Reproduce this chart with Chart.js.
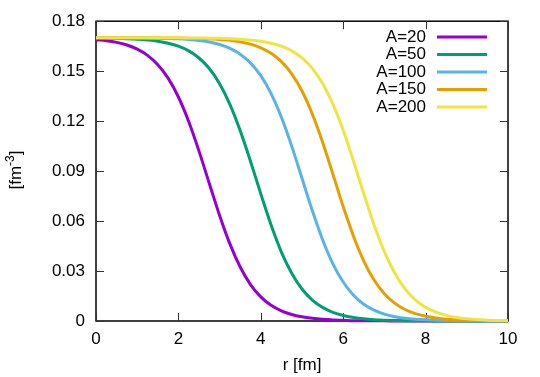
<!DOCTYPE html>
<html>
<head>
<meta charset="utf-8">
<script src="https://cdn.jsdelivr.net/npm/chart.js@4.4.1/dist/chart.umd.min.js"></script>
<style>
  html, body { margin: 0; padding: 0; background: #ffffff; }
</style>
</head>
<body>
<canvas id="densityChart" width="540" height="377"></canvas>
<script>
// r [fm]
const radius = [0, 0.25, 0.5, 0.75, 1, 1.25, 1.5, 1.75, 2, 2.25, 2.5, 2.75, 3, 3.25, 3.5, 3.75,
  4, 4.25, 4.5, 4.75, 5, 5.25, 5.5, 5.75, 6, 6.25, 6.5, 6.75, 7, 7.25, 7.5, 7.75,
  8, 8.25, 8.5, 8.75, 9, 9.25, 9.5, 9.75, 10];

// density [fm^-3]
const densA20 = [0.1689, 0.1683, 0.1673, 0.1657, 0.1632, 0.1595, 0.1539, 0.1458, 0.1345, 0.1198,
  0.1020, 0.0826, 0.0634, 0.0463, 0.0324, 0.0219, 0.0145, 0.0094, 0.0061, 0.0039,
  0.0025, 0.0016, 0.0010, 0.0006, 0.0004, 0.0002, 0.0002, 0.0001, 0.0001, 0, 0,
  0, 0, 0, 0, 0, 0, 0, 0, 0, 0];
const densA50 = [0.1699, 0.1698, 0.1697, 0.1695, 0.1692, 0.1687, 0.1680, 0.1668, 0.1650, 0.1622,
  0.1579, 0.1516, 0.1425, 0.1301, 0.1143, 0.0959, 0.0763, 0.0576, 0.0414, 0.0287,
  0.0192, 0.0126, 0.0082, 0.0052, 0.0033, 0.0021, 0.0013, 0.0008, 0.0005, 0.0003,
  0.0002, 0.0001, 0.0001, 0, 0, 0, 0, 0, 0, 0, 0];
const densA100 = [0.1700, 0.1700, 0.1700, 0.1699, 0.1699, 0.1698, 0.1697, 0.1696, 0.1694, 0.1690,
  0.1684, 0.1675, 0.1660, 0.1637, 0.1602, 0.1549, 0.1473, 0.1365, 0.1223, 0.1050,
  0.0857, 0.0663, 0.0488, 0.0343, 0.0234, 0.0155, 0.0101, 0.0065, 0.0041, 0.0026,
  0.0017, 0.0011, 0.0007, 0.0004, 0.0003, 0.0002, 0.0001, 0.0001, 0, 0, 0];
const densA150 = [0.1700, 0.1700, 0.1700, 0.1700, 0.1700, 0.1700, 0.1699, 0.1699, 0.1699, 0.1698,
  0.1696, 0.1694, 0.1690, 0.1685, 0.1676, 0.1662, 0.1640, 0.1607, 0.1557, 0.1484,
  0.1381, 0.1243, 0.1073, 0.0882, 0.0687, 0.0509, 0.0360, 0.0246, 0.0164, 0.0107,
  0.0069, 0.0044, 0.0028, 0.0018, 0.0011, 0.0007, 0.0005, 0.0003, 0.0002, 0.0001, 0.0001];
const densA200 = [0.1700, 0.1700, 0.1700, 0.1700, 0.1700, 0.1700, 0.1700, 0.1700, 0.1700, 0.1699,
  0.1699, 0.1698, 0.1697, 0.1695, 0.1692, 0.1687, 0.1680, 0.1668, 0.1650, 0.1622,
  0.1580, 0.1517, 0.1426, 0.1302, 0.1145, 0.0960, 0.0764, 0.0577, 0.0416, 0.0288,
  0.0193, 0.0127, 0.0082, 0.0053, 0.0034, 0.0021, 0.0013, 0.0009, 0.0005, 0.0003, 0.0002];

const seriesLabels = ["A=20", "A=50", "A=100", "A=150", "A=200"];
const seriesColors = ["#9400d3", "#009e73", "#56b4e9", "#e69f00", "#f0e442"];
const seriesValues = [densA20, densA50, densA100, densA150, densA200];

const xTicks = [0, 2, 4, 6, 8, 10];
const yTicks = [0, 0.03, 0.06, 0.09, 0.12, 0.15, 0.18];

const FONT = "Liberation Sans, Arial, sans-serif";

// gnuplot style border with inward tics, legend and y title
const gnuplotFrame = {
  id: "gnuplotFrame",
  beforeDatasetsDraw(chart) {
    const { ctx, chartArea: { left, right, top, bottom }, scales: { x, y } } = chart;
    ctx.save();
    ctx.strokeStyle = "#000000";
    ctx.lineWidth = 1.5;
    ctx.strokeRect(left, top, right - left, bottom - top);

    ctx.strokeStyle = "#333333";
    ctx.lineWidth = 1;
    const len = 8;
    xTicks.forEach((v) => {
      const px = Math.round(x.getPixelForValue(v)) + 0.5;
      ctx.beginPath();
      ctx.moveTo(px, bottom);
      ctx.lineTo(px, bottom - len);
      ctx.moveTo(px, top);
      ctx.lineTo(px, top + len);
      ctx.stroke();
    });
    yTicks.forEach((v) => {
      const py = Math.round(y.getPixelForValue(v)) + 0.5;
      ctx.beginPath();
      ctx.moveTo(left, py);
      ctx.lineTo(left + len, py);
      ctx.moveTo(right, py);
      ctx.lineTo(right - len, py);
      ctx.stroke();
    });
    ctx.restore();
  },
  afterDraw(chart) {
    const { ctx } = chart;
    ctx.save();

    // legend, text right aligned with the sample line after it
    ctx.font = `17px ${FONT}`;
    ctx.textAlign = "right";
    ctx.textBaseline = "middle";
    seriesLabels.forEach((label, i) => {
      const rowY = 37 + i * 17.5;
      ctx.fillStyle = "#000000";
      ctx.fillText(label, 426, rowY);
      ctx.strokeStyle = seriesColors[i];
      ctx.lineWidth = 3;
      ctx.beginPath();
      ctx.moveTo(437, rowY);
      ctx.lineTo(487, rowY);
      ctx.stroke();
    });

    // y title [fm^-3]
    ctx.translate(21, 170);
    ctx.rotate(-Math.PI / 2);
    ctx.fillStyle = "#000000";
    ctx.textAlign = "left";
    ctx.textBaseline = "alphabetic";
    const mainFont = `17px ${FONT}`;
    const supFont = `12px ${FONT}`;
    ctx.font = mainFont;
    const w1 = ctx.measureText("[fm").width;
    const w3 = ctx.measureText("]").width;
    ctx.font = supFont;
    const w2 = ctx.measureText("-3").width;
    let cx = -(w1 + w2 + w3) / 2;
    ctx.font = mainFont;
    ctx.fillText("[fm", cx, 0);
    cx += w1;
    ctx.font = supFont;
    ctx.fillText("-3", cx, -7);
    cx += w2;
    ctx.font = mainFont;
    ctx.fillText("]", cx, 0);
    ctx.restore();

    // x title
    ctx.save();
    ctx.font = `17px ${FONT}`;
    ctx.fillStyle = "#000000";
    ctx.textAlign = "center";
    ctx.textBaseline = "middle";
    ctx.fillText("r [fm]", (chart.chartArea.left + chart.chartArea.right) / 2, 365);
    ctx.restore();
  },
};

const densityCtx = document.getElementById("densityChart").getContext("2d");
const densityChart = new Chart(densityCtx, {
  type: "line",
  data: {
    datasets: seriesValues.map((vals, i) => ({
      label: seriesLabels[i],
      data: radius.map((r, j) => ({ x: r, y: vals[j] })),
      borderColor: seriesColors[i],
      backgroundColor: seriesColors[i],
      borderWidth: 3,
      pointRadius: 0,
      cubicInterpolationMode: "monotone",
      fill: false,
      clip: 4,
      order: seriesLabels.length - i,
    })),
  },
  options: {
    responsive: false,
    animation: false,
    devicePixelRatio: 1,
    layout: {
      padding: { top: 20, right: 32, left: 0, bottom: 0 },
    },
    scales: {
      x: {
        type: "linear",
        min: 0,
        max: 10,
        afterFit(scale) { scale.height = 56; },
        afterBuildTicks(scale) { scale.ticks = xTicks.map((v) => ({ value: v })); },
        grid: { display: false, drawTicks: false },
        border: { display: false },
        ticks: {
          padding: 8,
          color: "#000000",
          font: { family: FONT, size: 17 },
          callback: (v) => String(v),
        },
      },
      y: {
        type: "linear",
        min: 0,
        max: 0.18,
        afterFit(scale) { scale.width = 96; },
        afterBuildTicks(scale) { scale.ticks = yTicks.map((v) => ({ value: v })); },
        grid: { display: false, drawTicks: false },
        border: { display: false },
        ticks: {
          padding: 11,
          color: "#000000",
          font: { family: FONT, size: 17 },
          callback: (v) => (v === 0 ? "0" : v.toFixed(2)),
        },
      },
    },
    plugins: {
      legend: { display: false },
      title: { display: false },
      tooltip: { enabled: false },
    },
  },
  plugins: [gnuplotFrame],
});
</script>
</body>
</html>
